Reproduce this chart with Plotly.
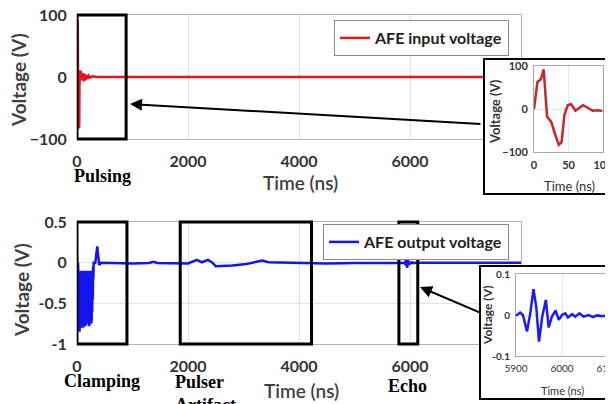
import plotly.graph_objects as go

W, H = 613, 404
OFF = 8  # the page body adds an 8 px margin around the figure

# ---------------- data ----------------
# AFE input voltage, pulsing window (ns, V)
pulse_t = [0, 5, 10, 14, 19, 25, 31, 36, 40, 44, 49, 54, 60, 65, 71, 78, 85, 93, 99]
pulse_v = [0, 63, 69, 92, -18, -30, -61, -83, -77, -14, 9, 11, -4, 1, 9, 3, -4, -3, -5]
# AFE input voltage after the pulse (ns, V)
input_tail_t = [110, 125, 140, 155, 170, 190, 210, 240, 280, 350, 1000, 2000, 3000, 4000, 5000, 6000, 7000, 8000]
input_tail_v = [6, -7, 5, -5, 3, -3, 2, -1, 1, 0, 0, 0, 0, 0, 0, 0, 0, 0]

# AFE output voltage, clamping window (ns, V)
clamp_t = [0, 5, 10, 15, 20, 25, 30, 35, 40, 45, 50, 55, 60, 65, 70, 75, 80, 85, 90, 95,
           100, 105, 110, 115, 120, 125, 130, 135, 140, 145, 150, 155, 160, 165, 170, 175,
           180, 185, 190, 195, 200, 205, 210, 215, 220, 225, 230, 235, 240, 245, 250, 255,
           260, 265, 270, 275, 280, 285, 290, 295, 300]
clamp_v = [0.08, -0.5, 0.05, -0.7, 0.0, -0.75, -0.1, -0.82, -0.2, -0.85, -0.3, -0.7, -0.1, -0.8,
           -0.2, -0.75, -0.35, -0.7, -0.1, -0.65, -0.3, -0.75, -0.15, -0.8, -0.2, -0.7, -0.1,
           -0.6, -0.3, -0.72, -0.25, -0.78, -0.1, -0.7, -0.2, -0.68, -0.3, -0.75, -0.15, -0.6,
           -0.1, -0.7, -0.2, -0.78, -0.3, -0.75, -0.2, -0.7, -0.1, -0.65, -0.15, -0.75, -0.3,
           -0.7, -0.2, -0.6, -0.1, -0.45, -0.05, -0.2, 0.0]
# AFE output voltage between clamping and echo (ns, V)
output_mid_t = [330, 350, 365, 380, 400, 430, 700, 1000, 1300, 1375, 1450, 1700, 2000, 2160,
                2250, 2360, 2440, 2500, 2800, 3050, 3340, 3450, 3700, 4000, 4500, 5000, 5500, 5880]
output_mid_v = [0.0, 0.12, 0.2, 0.1, -0.03, 0.0, -0.005, -0.01, -0.005, 0.01, -0.005, -0.01,
                -0.01, 0.035, 0.005, 0.035, 0.0, -0.045, -0.035, -0.015, 0.025, 0.005, 0.0, 0.0,
                -0.01, -0.005, -0.005, 0.0]
# Echo window (ns, V)
echo_t = [5900, 5909, 5915, 5924, 5931, 5938, 5944, 5950, 5957, 5965, 5971, 5978, 5986, 5993,
          6000, 6007, 6013, 6022, 6029, 6038, 6047, 6058, 6067, 6077, 6087, 6100]
echo_v = [-0.002, 0.006, 0.0, -0.04, 0.004, 0.063, 0.02, -0.065, -0.004, 0.037, -0.03, -0.004,
          0.011, -0.012, 0.0, 0.004, -0.006, 0.002, -0.004, 0.004, -0.004, 0.0, -0.005, -0.001,
          -0.003, -0.001]
output_tail_t = [6200, 7000, 8000]
output_tail_v = [0.0, 0.0, 0.0]

main_ticks_x = [0, 2000, 4000, 6000]
top_ticks_y = [-100, 0, 100]
bot_ticks_y = [-1, -0.5, 0, 0.5]
bot_ticks_y_text = ["-1", "-0.5", "0", "0.5"]

# highlight windows (ns)
pulsing_win = [0, 885]
clamping_win = [0, 900]
artifact_win = [1860, 4225]
echo_win = [5800, 6140]

input_t = pulse_t + input_tail_t
input_v = pulse_v + input_tail_v
output_t = clamp_t + output_mid_t + echo_t + output_tail_t
output_v = clamp_v + output_mid_v + echo_v + output_tail_v


def px(x):
    return (x - OFF) / W


def py(y):
    return 1 - (y - OFF) / H


fig = go.Figure()
fig.add_trace(go.Scatter(x=input_t, y=input_v, mode="lines", name="AFE input voltage",
                         line=dict(color="#e8141c", width=2.5), xaxis="x", yaxis="y",
                         legend="legend"))
fig.add_trace(go.Scatter(x=output_t, y=output_v, mode="lines", name="AFE output voltage",
                         line=dict(color="#1414f0", width=2.5), xaxis="x2", yaxis="y2",
                         legend="legend2"))
# white inset frames (empty subplots drawn over the main plots)
fig.add_trace(go.Scatter(x=[], y=[], xaxis="x3", yaxis="y3", showlegend=False, hoverinfo="skip"))
fig.add_trace(go.Scatter(x=[], y=[], xaxis="x4", yaxis="y4", showlegend=False, hoverinfo="skip"))
# insets
fig.add_trace(go.Scatter(x=pulse_t, y=pulse_v, mode="lines", showlegend=False,
                         line=dict(color="#c8282a", width=2.5), xaxis="x5", yaxis="y5"))
fig.add_trace(go.Scatter(x=echo_t, y=echo_v, mode="lines", showlegend=False,
                         line=dict(color="#1a1aff", width=2.5), xaxis="x6", yaxis="y6"))

tickfont_main = dict(family="Lato", size=16, color="#333333", weight="bold")
main_common = dict(showline=True, linecolor="#b4b4b4", linewidth=1, mirror=True,
                   showgrid=True, gridcolor="#e2e2e2", zeroline=False, ticks="",
                   tickfont=tickfont_main, automargin=False, ticklabeloverflow="allow")

frame_x = dict(showline=True, linecolor="black", linewidth=1.5, mirror=True, showgrid=False,
               zeroline=False, showticklabels=False, ticks="", range=[0, 1], fixedrange=True,
               automargin=False)
frame_y = dict(showline=True, linecolor="black", linewidth=1.5, mirror=False, showgrid=False,
               zeroline=False, showticklabels=False, ticks="", range=[0, 1], fixedrange=True,
               automargin=False)

inset_common = dict(showline=True, linecolor="#a8a8a8", linewidth=1, mirror=True,
                    showgrid=True, gridcolor="#e6e6e6", zeroline=False, ticks="",
                    automargin=False, ticklabeloverflow="allow")

fig.update_layout(
    template="none",
    width=W, height=H, margin=dict(l=0, r=0, t=0, b=0, autoexpand=False),
    paper_bgcolor="white", plot_bgcolor="white",
    xaxis=dict(domain=[px(77), px(521)], range=[0, 8000], tickvals=main_ticks_x,
               anchor="y", ticklabelstandoff=8, **main_common),
    yaxis=dict(domain=[py(139), py(15)], range=[-100, 100], tickvals=top_ticks_y,
               anchor="x", ticklabelstandoff=6, **main_common),
    xaxis2=dict(domain=[px(77), px(521)], range=[0, 8000], tickvals=main_ticks_x,
                anchor="y2", ticklabelstandoff=8, **main_common),
    yaxis2=dict(domain=[py(344), py(222)], range=[-1, 0.5], tickvals=bot_ticks_y,
                ticktext=bot_ticks_y_text, anchor="x2", ticklabelstandoff=6, **main_common),
    xaxis3=dict(domain=[px(485), 1.0], anchor="y3", **frame_x),
    yaxis3=dict(domain=[py(193), py(60)], anchor="x3", **frame_y),
    xaxis4=dict(domain=[px(481), 1.0], anchor="y4", **frame_x),
    yaxis4=dict(domain=[py(398), py(267)], anchor="x4", **frame_y),
    xaxis5=dict(domain=[px(534), px(603)], range=[0, 100], tickvals=[0, 50, 100], anchor="y5",
                tickfont=dict(family="Lato", size=11, color="#333333", weight="bold"),
                ticklabelstandoff=3, **inset_common),
    yaxis5=dict(domain=[py(152), py(66)], range=[-100, 100], tickvals=[-100, 0, 100], anchor="x5",
                tickfont=dict(family="Lato", size=11, color="#333333", weight="bold"),
                ticklabelstandoff=3, **inset_common),
    xaxis6=dict(domain=[px(516), px(608)], range=[5900, 6100], tickvals=[5900, 6000, 6100],
                anchor="y6", tickfont=dict(family="Lato", size=10, color="#333333"),
                ticklabelstandoff=3, **inset_common),
    yaxis6=dict(domain=[py(356), py(274)], range=[-0.1, 0.1], tickvals=[-0.1, 0, 0.1],
                ticktext=["-0.1", "0", "0.1"], anchor="x6",
                tickfont=dict(family="Lato", size=10, color="#333333", weight="bold"),
                ticklabelstandoff=3, **inset_common),
    legend=dict(x=px(334), y=py(20), xanchor="left", yanchor="top", bgcolor="white",
                bordercolor="#8c8c8c", borderwidth=1,
                font=dict(family="Lato", size=16, color="#222222", weight="bold")),
    legend2=dict(x=px(323), y=py(224), xanchor="left", yanchor="top", bgcolor="white",
                 bordercolor="#8c8c8c", borderwidth=1,
                 font=dict(family="Lato", size=16, color="#222222", weight="bold")),
)

# highlight windows
for xref, win in [("x", pulsing_win), ("x2", clamping_win), ("x2", artifact_win), ("x2", echo_win)]:
    yref = "y domain" if xref == "x" else "y2 domain"
    fig.add_shape(type="rect", xref=xref, yref=yref, x0=win[0], x1=win[1], y0=0, y1=1,
                  line=dict(color="black", width=3), fillcolor="rgba(0,0,0,0)", layer="above")

title_font = dict(family="Lato", size=19, color="#404040", weight="bold")
serif_font = dict(family="Liberation Serif", size=18, color="black", weight="bold")


def note(text, x, y, font, angle=0, xanchor="center", align="center"):
    fig.add_annotation(text=text, x=px(x), y=py(y), xref="paper", yref="paper",
                       showarrow=False, font=font, textangle=angle, xanchor=xanchor,
                       yanchor="middle", align=align)


note("Voltage (V)", 19, 80, title_font, angle=-90)
note("Voltage (V)", 21, 290, title_font, angle=-90)
note("Time (ns)", 300, 183, dict(family="Lato", size=19, color="#404040", weight=600))
note("Time (ns)", 301, 390, dict(family="Lato", size=19, color="#404040", weight=600))
note("Voltage (V)", 495, 112, dict(family="Lato", size=13, color="#333333", weight="bold"), angle=-90)
note("Time (ns)", 569, 186, dict(family="Lato", size=13, color="#333333"))
note("Voltage (V)", 487, 315, dict(family="Lato", size=12, color="#333333", weight="bold"), angle=-90)
note("Time (ns)", 562, 390, dict(family="Lato", size=11, color="#333333"))
note("Pulsing", 102, 176, serif_font)
note("Clamping", 102, 381, serif_font)
note("Pulser<br>Artifact", 173, 393, serif_font, xanchor="left", align="left")
note("Echo", 407, 386, serif_font)

# arrows from insets to highlighted windows
fig.add_annotation(x=px(130), y=py(104), xref="paper", yref="paper", text="", showarrow=True,
                   ax=482 - 130, ay=124 - 104, arrowhead=2, arrowsize=1.2, arrowwidth=2,
                   arrowcolor="black")
fig.add_annotation(x=px(420), y=py(287), xref="paper", yref="paper", text="", showarrow=True,
                   ax=481 - 420, ay=313 - 287, arrowhead=2, arrowsize=1.2, arrowwidth=2,
                   arrowcolor="black")

fig.write_html("out.html")
